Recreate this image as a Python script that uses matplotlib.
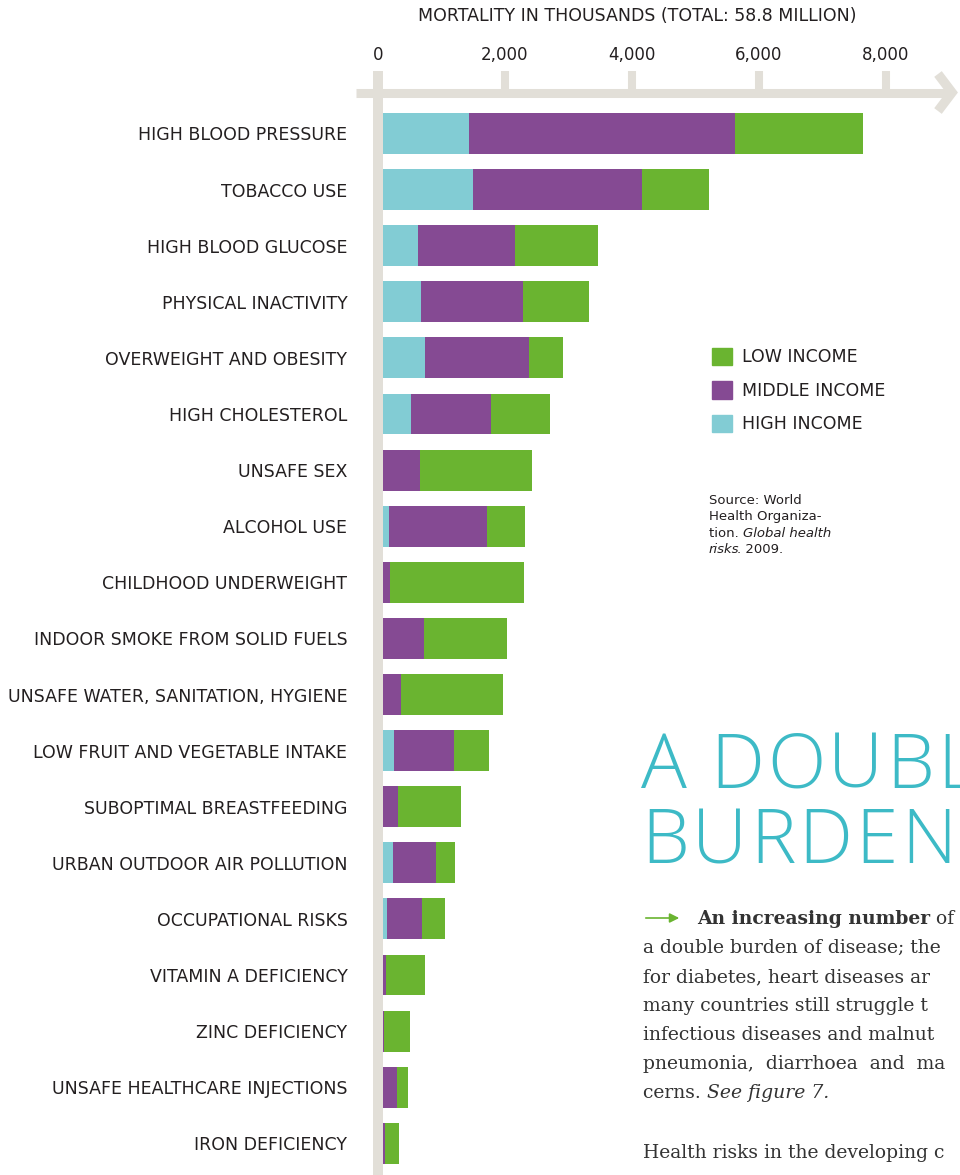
import numpy as np
import matplotlib
matplotlib.use("Agg")
import matplotlib.pyplot as plt
from matplotlib.patches import Patch

# mortality in thousands, by income group of the country
risks = [
    "HIGH BLOOD PRESSURE", "TOBACCO USE", "HIGH BLOOD GLUCOSE",
    "PHYSICAL INACTIVITY", "OVERWEIGHT AND OBESITY", "HIGH CHOLESTEROL",
    "UNSAFE SEX", "ALCOHOL USE", "CHILDHOOD UNDERWEIGHT",
    "INDOOR SMOKE FROM SOLID FUELS", "UNSAFE WATER, SANITATION, HYGIENE",
    "LOW FRUIT AND VEGETABLE INTAKE", "SUBOPTIMAL BREASTFEEDING",
    "URBAN OUTDOOR AIR POLLUTION", "OCCUPATIONAL RISKS",
    "VITAMIN A DEFICIENCY", "ZINC DEFICIENCY",
    "UNSAFE HEALTHCARE INJECTIONS", "IRON DEFICIENCY",
]
high_income = [1430, 1500, 630, 680, 740, 520, 0, 170, 0, 0, 0, 250, 0, 235, 140, 0, 0, 0, 0]
middle_income = [4190, 2660, 1530, 1600, 1640, 1260, 660, 1545, 190, 725, 360, 945, 315, 680, 550, 125, 95, 300, 110]
low_income = [2020, 1055, 1310, 1040, 535, 930, 1765, 600, 2110, 1305, 1605, 550, 990, 300, 365, 615, 410, 175, 220]
xticks = [0, 2000, 4000, 6000, 8000]

C_HIGH = "#82ccd4"
C_MID = "#854a93"
C_LOW = "#6ab430"
GREY = "#e2dfd8"
INK = "#231f20"
TEAL = "#3dbac6"

W, H = 960, 1175
fig = plt.figure(figsize=(W / 100, H / 100), dpi=100)

# main axes: x=0 at px 378, 63.5 px per 1000
x0_px, top_px = 378, 92.5
ax = fig.add_axes([x0_px / W, 0, 1 - x0_px / W, 1 - top_px / H])
ax.set_xlim(0, (W - x0_px) / 0.0635)
row0, rowstep = 133.5, 56.1
ax.set_ylim((H - row0) / rowstep, (top_px - row0) / rowstep)

y = np.arange(len(risks))
hi = np.array(high_income)
mi = np.array(middle_income)
lo = np.array(low_income)
ax.barh(y, hi, height=0.73, color=C_HIGH, lw=0)
ax.barh(y, mi, left=hi, height=0.73, color=C_MID, lw=0)
ax.barh(y, lo, left=hi + mi, height=0.73, color=C_LOW, lw=0)

for s in ax.spines.values():
    s.set_visible(False)
ax.set_facecolor("none")
ax.xaxis.tick_top()
ax.set_xticks(xticks)
ax.set_xticklabels([f"{v:,}" for v in xticks])
ax.tick_params(axis="x", length=15.5, width=5.8, color=GREY, pad=5,
               labelsize=12, labelcolor=INK)
ax.set_yticks(y)
ax.set_yticklabels(risks)
ax.tick_params(axis="y", length=0, pad=22, labelsize=12.5, labelcolor=INK)

leg = ax.legend(handles=[Patch(color=C_LOW, label="LOW INCOME"),
                         Patch(color=C_MID, label="MIDDLE INCOME"),
                         Patch(color=C_HIGH, label="HIGH INCOME")],
                loc="upper left", bbox_to_anchor=(712 / W, 1 - 348 / H),
                bbox_transform=fig.transFigure, frameon=False,
                fontsize=12.5, handlelength=1.15, handleheight=1.15,
                handletextpad=0.55, labelspacing=0.86, borderpad=0,
                borderaxespad=0)
for t in leg.get_texts():
    t.set_color(INK)

# overlay in pixel coordinates for the axis lines and page text
deco = fig.add_axes([0, 0, 1, 1], zorder=5)
deco.set_xlim(0, W)
deco.set_ylim(H, 0)
deco.axis("off")
deco.plot([356, 948], [top_px, top_px], color=GREY, lw=6.5, solid_capstyle="butt")
deco.plot([938, 952, 938], [74, top_px, 111], color=GREY, lw=6.8,
          solid_joinstyle="miter", solid_capstyle="butt")
deco.plot([x0_px, x0_px], [71, H], color=GREY, lw=7.2, solid_capstyle="butt")

deco.text(637, 16, "MORTALITY IN THOUSANDS (TOTAL: 58.8 MILLION)", ha="center",
          va="center", fontsize=12.5, color=INK)

# source note
src = dict(fontsize=9.5, color=INK, va="baseline")
deco.text(709, 504, "Source: World", **src)
deco.text(709, 520, "Health Organiza-", **src)
t1 = deco.text(709, 537, "tion. ", **src)
deco.annotate("Global health", xy=(1, 0), xycoords=t1, va="bottom",
              fontsize=9.5, color=INK, style="italic")
t2 = deco.text(709, 553, "risks", style="italic", **src)
deco.annotate(". 2009.", xy=(1, 0), xycoords=t2, xytext=(-2, 0),
              textcoords="offset points", va="bottom", fontsize=9.5, color=INK)


def tracked(x, y, word, track, **kw):
    # letters one after another with extra spacing (points)
    prev = None
    gap = 0
    for ch in word:
        if ch == " ":
            gap += kw["fontsize"] * 0.26
            continue
        if prev is None:
            prev = deco.text(x, y, ch, va="baseline", **kw)
        else:
            prev = deco.annotate(ch, xy=(1, 0), xycoords=prev,
                                 xytext=(track + gap, 0),
                                 textcoords="offset points", va="bottom", **kw)
        gap = 0


# headline and body text, cut by the page edge as in the page layout
head = dict(fontsize=55, color=TEAL, family=["Open Sans", "DejaVu Sans"],
            fontweight="light")
tracked(641, 788, "A DOUBL", 2.2, **head)
tracked(641, 863, "BURDEN", 2.2, **head)

bsize = 13.5
body = dict(fontsize=bsize, color="#333333", family="DejaVu Serif", va="baseline")
deco.annotate("", xy=(682, 918), xytext=(643, 918),
              arrowprops=dict(arrowstyle="-|>", color=C_LOW, lw=1.2,
                              mutation_scale=14))
b1 = deco.text(697, 924, "An increasing number", fontweight="bold", **body)
deco.annotate(" of", xy=(1, 0), xycoords=b1, va="bottom", fontsize=bsize,
              color="#333333", family="DejaVu Serif")
lines = ["a double burden of disease; the",
         "for diabetes, heart diseases ar",
         "many countries still struggle t",
         "infectious diseases and malnut",
         "pneumonia,  diarrhoea  and  ma"]
for i, s in enumerate(lines):
    deco.text(643, 953 + 29 * i, s, **body)
c1 = deco.text(643, 1098, "cerns. ", **body)
deco.annotate("See figure 7.", xy=(1, 0), xycoords=c1, va="bottom", fontsize=bsize,
              color="#333333", family="DejaVu Serif", style="italic")
deco.text(643, 1158, "Health risks in the developing c", **body)

fig.savefig("out.png", dpi=100)
